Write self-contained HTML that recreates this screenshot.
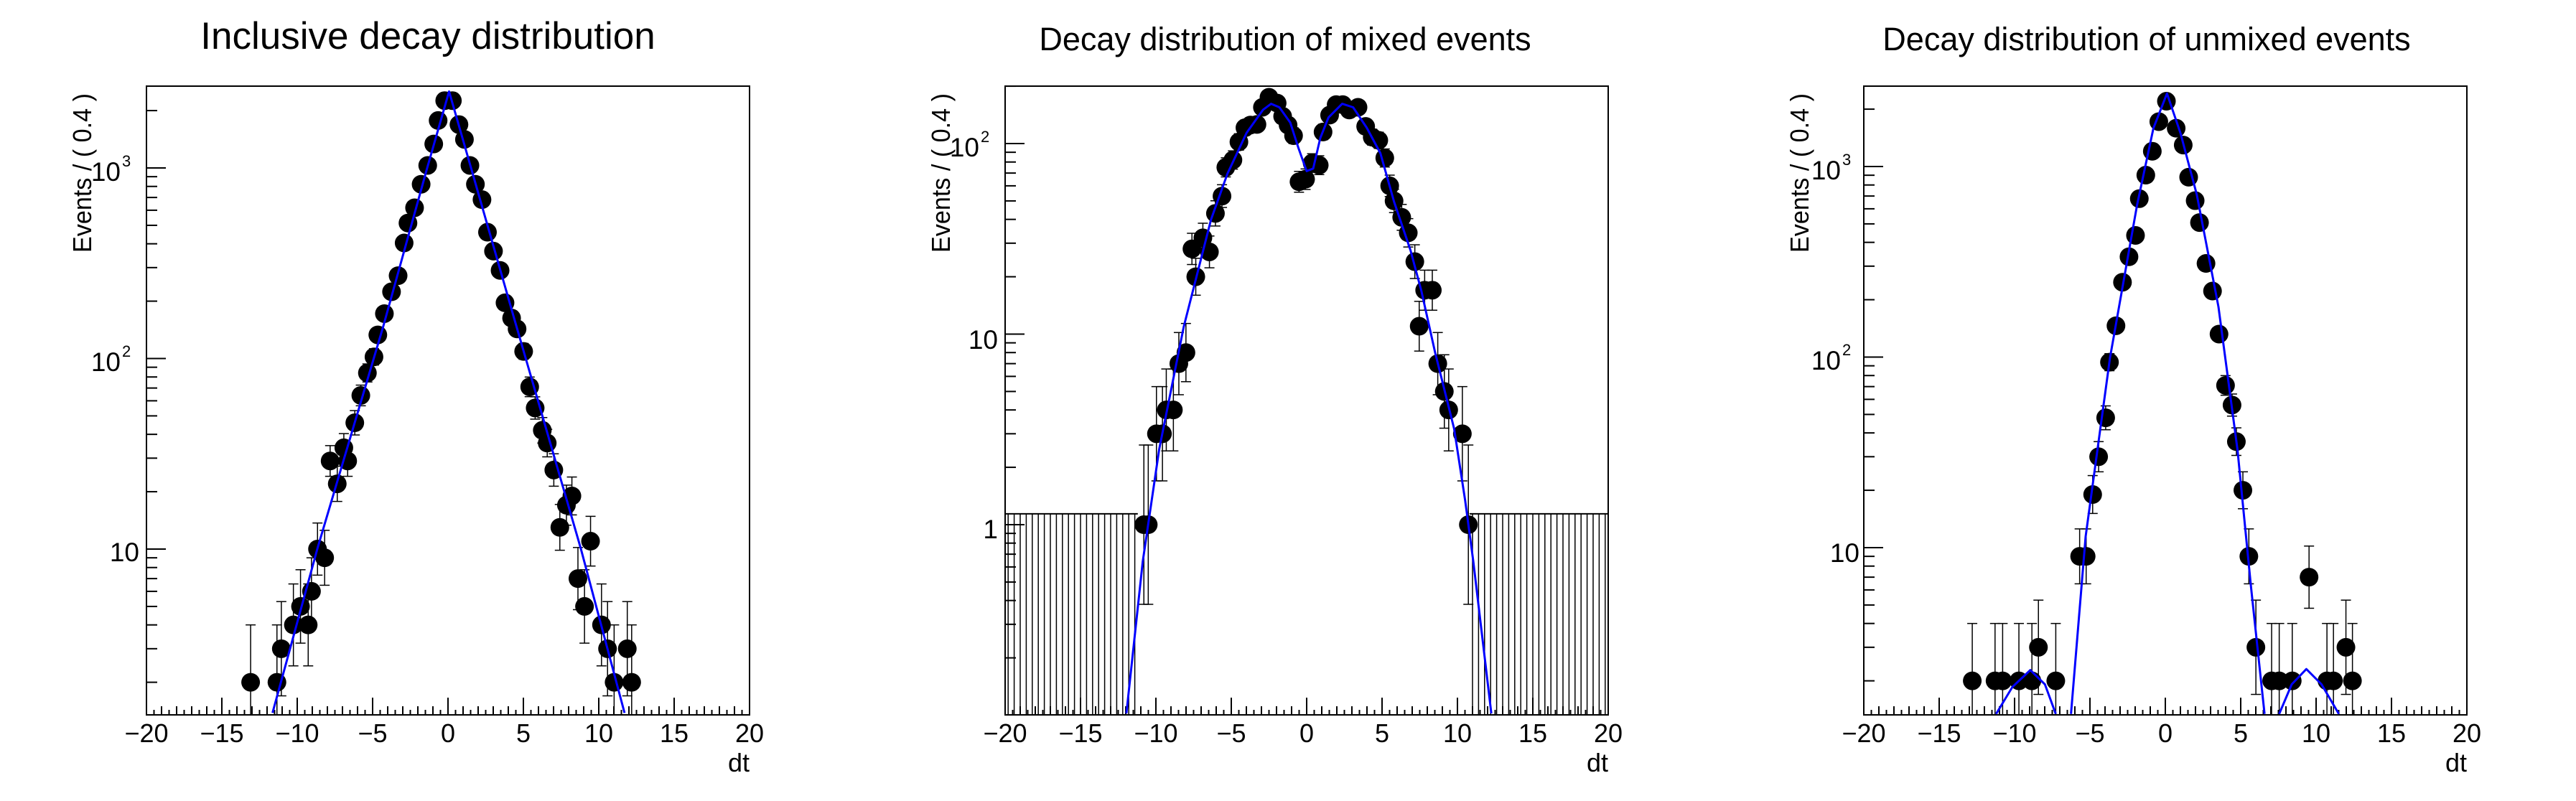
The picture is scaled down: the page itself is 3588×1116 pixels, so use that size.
<!DOCTYPE html>
<html><head><meta charset="utf-8"><style>
html,body{margin:0;padding:0;background:#fff;}
svg{display:block;font-family:"Liberation Sans",Arial,sans-serif;}
</style></head><body>
<svg id="s" width="3588" height="1116" viewBox="0 0 3588 1116" xmlns="http://www.w3.org/2000/svg">
<rect width="3588" height="1116" fill="#fff"/>
<defs>
<clipPath id="c0"><rect x="204" y="120" width="840" height="876"/></clipPath>
<clipPath id="c1"><rect x="1400" y="120" width="840" height="876"/></clipPath>
<clipPath id="c2"><rect x="2596" y="120" width="840" height="876"/></clipPath>
</defs>
<text x="596" y="68" font-size="53" text-anchor="middle">Inclusive decay distribution</text>
<text x="1790" y="70" font-size="45" text-anchor="middle">Decay distribution of mixed events</text>
<text x="2990" y="70" font-size="45" text-anchor="middle">Decay distribution of unmixed events</text>
<g font-size="36">
<text transform="translate(127,130) rotate(-90)" text-anchor="end" textLength="222" lengthAdjust="spacingAndGlyphs">Events / ( 0.4 )</text>
<text transform="translate(1323,130) rotate(-90)" text-anchor="end" textLength="222" lengthAdjust="spacingAndGlyphs">Events / ( 0.4 )</text>
<text transform="translate(2519,130) rotate(-90)" text-anchor="end" textLength="222" lengthAdjust="spacingAndGlyphs">Events / ( 0.4 )</text>
<text x="1044" y="1075" text-anchor="end">dt</text>
<text x="2240" y="1075" text-anchor="end">dt</text>
<text x="3436" y="1075" text-anchor="end">dt</text>
</g>
<g font-size="37">
<text x="168" y="252" text-anchor="end">10</text><text x="170" y="232" font-size="22">3</text>
<text x="168" y="517" text-anchor="end">10</text><text x="170" y="497" font-size="22">2</text>
<text x="194" y="782" text-anchor="end">10</text>
<text x="1364" y="218" text-anchor="end">10</text><text x="1366" y="198" font-size="22">2</text>
<text x="1390" y="486" text-anchor="end">10</text>
<text x="1390" y="750" text-anchor="end">1</text>
<text x="2564" y="250" text-anchor="end">10</text><text x="2566" y="230" font-size="22">3</text>
<text x="2564" y="515" text-anchor="end">10</text><text x="2566" y="495" font-size="22">2</text>
<text x="2590" y="783" text-anchor="end">10</text>
</g>
<g id="xl0" font-size="36" text-anchor="middle">
<text x="204" y="1034">−20</text><text x="309" y="1034">−15</text><text x="414" y="1034">−10</text><text x="519" y="1034">−5</text><text x="624" y="1034">0</text><text x="729" y="1034">5</text><text x="834" y="1034">10</text><text x="939" y="1034">15</text><text x="1044" y="1034">20</text>
<text x="1400" y="1034">−20</text><text x="1505" y="1034">−15</text><text x="1610" y="1034">−10</text><text x="1715" y="1034">−5</text><text x="1820" y="1034">0</text><text x="1925" y="1034">5</text><text x="2030" y="1034">10</text><text x="2135" y="1034">15</text><text x="2240" y="1034">20</text>
<text x="2596" y="1034">−20</text><text x="2701" y="1034">−15</text><text x="2806" y="1034">−10</text><text x="2911" y="1034">−5</text><text x="3016" y="1034">0</text><text x="3121" y="1034">5</text><text x="3226" y="1034">10</text><text x="3331" y="1034">15</text><text x="3436" y="1034">20</text>
</g>
<g id="g"></g>
</svg>
<script>
var NS="http://www.w3.org/2000/svg",G=document.getElementById("g");
function el(t,a,p){var e=document.createElementNS(NS,t);for(var k in a)e.setAttribute(k,a[k]);(p||G).appendChild(e);return e;}
var P=[
{L:204,ref:234,dec:3,z0:818,zu:27.5,zr:330,zd:3,
pts:[[458,1336],[506,1336],[514,1270],[536,1222],[549,1190],[563,1222],[569,1160],[580,1076],[593,1092],[603,903],[616,948],[628,880],[635,906],[648,830],[659,775],[671,732],[683,700],[690,657],[702,616],[715,573],[727,541],[738,477],[745,438],[757,408],[769,362],[781,325],[792,283],[800,237],[812,198],[826,198],[838,245],[848,274],[858,325],[868,362],[880,392],[890,456],[901,493],[913,531],[922,594],[934,624],[944,645],[956,690],[967,760],[977,800],[990,843],[999,870],[1011,919],[1022,1033],[1034,992],[1044,969],[1055,1135],[1067,1190],[1078,1058],[1098,1222],[1109,1270],[1121,1336],[1145,1270],[1153,1336]],
curves:[[[498,1398],[580,1075],[700,640],[780,330],[820,180],[860,330],[940,630],[1060,1075],[1140,1398]]]},
{L:1400,ref:200,dec:2,z0:810,zu:27.6,zr:281,zd:2,empty:true,
pts:[[512,1028],[520,1028],[535,852],[546,852],[553,805],[566,805],[576,713],[589,690],[600,490],[607,544],[620,468],[632,494],[643,418],[655,383],[662,328],[675,313],[686,278],[697,250],[707,245],[719,243],[729,210],[741,190],[756,202],[766,228],[776,245],[786,265],[796,355],[808,352],[820,320],[833,324],[840,258],[852,225],[864,205],[876,205],[888,215],[904,210],[918,248],[930,268],[942,275],[953,310],[962,365],[970,393],[984,427],[996,456],[1008,515],[1016,640],[1026,570],[1040,570],[1050,713],[1062,767],[1070,805],[1095,852],[1106,1028]],
curves:[[[480,1398],[510,1100],[540,880],[585,640],[635,430],[665,340],[700,260],[730,215],[745,203],[760,210],[780,240],[795,290],[810,335],[822,330],[835,270],[850,230],[875,203],[895,210],[920,250],[945,300],[970,395],[1000,490],[1020,570],[1045,690],[1080,840],[1100,980],[1115,1100],[1148,1398]]]},
{L:2596,ref:232,dec:3,z0:812,zu:27.8,zr:325,zd:3,
pts:[[456,1332],[498,1332],[512,1332],[542,1332],[566,1332],[578,1265],[610,1332],[654,1088],[666,1088],[678,966],[689,894],[702,818],[709,709],[721,637],[733,552],[745,502],[757,460],[764,388],[776,342],[788,295],[800,237],[814,197],[832,250],[845,283],[855,346],[867,392],[875,435],[887,515],[899,569],[911,654],[923,755],[935,793],[943,864],[955,957],[966,1088],[979,1265],[1008,1332],[1022,1332],[1046,1332],[1077,1130],[1110,1332],[1122,1332],[1145,1265],[1157,1332]],
curves:[[[638,1398],[665,1050],[710,700],[760,400],[790,250],[815,182],[840,260],[870,380],[910,600],[945,880],[970,1150],[995,1398]],[[500,1398],[530,1345],[563,1312],[590,1340],[610,1398]],[[1022,1398],[1045,1340],[1072,1310],[1100,1340],[1132,1398]]]}
];
P.forEach(function(p,i){
 var L=p.L,R=L+840,T=120,B=996;
 function X(t){return L+(t+20)*21;}
 function Y(v){return p.ref-(Math.log10(v)-p.dec)*265.5;}
 function zt(xz){return (xz-p.z0)/p.zu;}
 function zl(yz){return p.zd-(yz-p.zr)/373.5;}
 var s="stroke:#000;stroke-width:2;fill:none";
 el("rect",{x:L,y:T,width:840,height:876,style:s});
 for(var k=0;k<=80;k++){var t=-20+k*0.5;var h=(k%10==0)?24:(k%2==0?12:7);el("line",{x1:X(t),x2:X(t),y1:B,y2:B-h,style:s});}
 for(var d=-2;d<=4;d++){for(var m=1;m<10;m++){var v=m*Math.pow(10,d);var y=Y(v);if(y<T||y>B)continue;el("line",{x1:L,x2:L+(m==1?27:15),y1:y,y2:y,style:s});}}
 var g=el("g",{"clip-path":"url(#c"+i+")"});
 if(p.empty){var ye=Y(1.14);for(var k=0;k<100;k++){var t=-19.8+k*0.4;if(t>-11.3&&t<10.9)continue;if(t>20)break;el("line",{x1:X(t),x2:X(t),y1:B,y2:ye,style:"stroke:#000;stroke-width:1.5"},g);}
  el("line",{x1:L,x2:X(-11.2),y1:ye,y2:ye,style:s},g);el("line",{x1:X(10.8),x2:R,y1:ye,y2:ye,style:s},g);}
 p.pts.forEach(function(q){var t=zt(q[0]);var N=Math.max(1,Math.round(Math.pow(10,zl(q[1]))));
  var x=X(t),y=Y(N);var hi=N+Math.sqrt(N+0.25)+0.5,lo=N-Math.sqrt(N+0.25)+0.5;
  var yh=Y(hi),yl=lo>0.05?Y(lo):B;
  el("line",{x1:x,x2:x,y1:yh,y2:yl,style:"stroke:#000;stroke-width:1.5"},g);
  el("line",{x1:x-7,x2:x+7,y1:yh,y2:yh,style:"stroke:#000;stroke-width:1.5"},g);
  el("line",{x1:x-7,x2:x+7,y1:yl,y2:yl,style:"stroke:#000;stroke-width:1.5"},g);
 });
 p.pts.forEach(function(q){var t=zt(q[0]);var N=Math.max(1,Math.round(Math.pow(10,zl(q[1]))));el("circle",{cx:X(t),cy:Y(N),r:13,fill:"#000"},g);});
 p.curves.forEach(function(c){var d=c.map(function(q,j){return (j?"L":"M")+X(zt(q[0])).toFixed(1)+","+Y(Math.pow(10,zl(q[1]))).toFixed(1);}).join("");
  el("path",{d:d,style:"stroke:#0000ff;stroke-width:3;fill:none;stroke-linejoin:round"},g);});
});
</script>
</body></html>
